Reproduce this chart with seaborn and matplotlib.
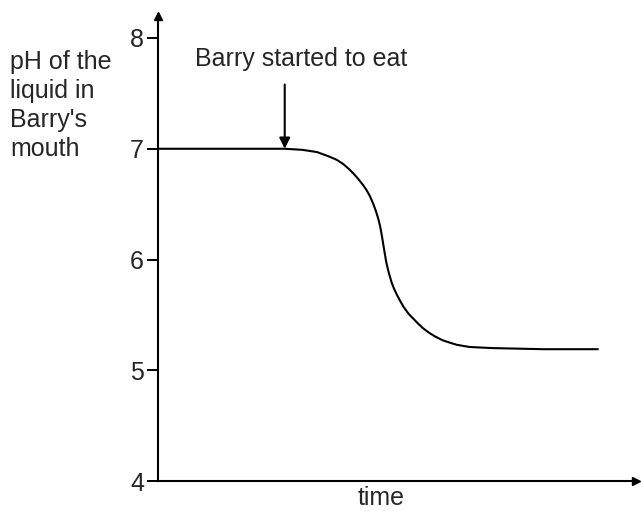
import numpy as np
import pandas as pd
import seaborn as sns
import matplotlib
matplotlib.use("Agg")
import matplotlib.pyplot as plt

# values (time in arbitrary units, pH)
time = [0.0, 1.0, 2.0, 2.63, 3.0, 3.3, 3.55, 3.71, 3.85, 3.98, 4.07, 4.16,
        4.26, 4.33, 4.40, 4.47, 4.52, 4.57, 4.61, 4.64, 4.67, 4.70, 4.74,
        4.79, 4.85, 4.90, 4.96, 5.02, 5.10, 5.20, 5.30, 5.40, 5.50, 5.62,
        5.75, 5.91, 6.05, 6.2, 6.33, 6.47, 6.7, 6.95, 8.0, 9.13]
ph = [7.0, 7.0, 7.0, 7.0, 6.99, 6.97, 6.93, 6.90, 6.86, 6.81, 6.77, 6.725,
      6.67, 6.625, 6.57, 6.50, 6.44, 6.37, 6.30, 6.23, 6.15, 6.07, 5.97,
      5.88, 5.79, 5.735, 5.68, 5.63, 5.57, 5.51, 5.465, 5.42, 5.38, 5.34,
      5.305, 5.27, 5.25, 5.23, 5.22, 5.21, 5.205, 5.20, 5.19, 5.19]
yticks = [4, 5, 6, 7, 8]
ylabel = "pH of the\nliquid in\nBarry's\nmouth"
xlabel = "time"
note = "Barry started to eat"
note_time = 2.63

sns.set_style("white")
plt.rcParams['font.family'] = ['Liberation Sans', 'DejaVu Sans']

df = pd.DataFrame({"time": time, "pH": ph})

fig = plt.figure(figsize=(6.41, 5.11), dpi=100)
ax = fig.add_axes([158 / 641, 30 / 511, (636 - 158) / 641, (481 - 16) / 511])

sns.lineplot(data=df, x="time", y="pH", color="black", linewidth=1.5, ax=ax)

ax.set_xlim(0, 9.92)
ax.set_ylim(4, 4 + (481 - 16) / 110.75)
ax.set_yticks(yticks)
ax.set_xticks([])
ax.tick_params(axis="y", left=True, length=8, width=1.4, color="black",
               labelsize=18, pad=2)
for s in ["top", "right"]:
    ax.spines[s].set_visible(False)
for s in ["left", "bottom"]:
    ax.spines[s].set_linewidth(1.5)
    ax.spines[s].set_color("black")
ax.plot(1, 0, ">k", markersize=6, transform=ax.transAxes, clip_on=False)
ax.plot(0, 1, "^k", markersize=6, transform=ax.transAxes, clip_on=False)

ax.set_xlabel(xlabel, fontsize=18)
ax.xaxis.set_label_coords((381 - 158) / (636 - 158), -5 / 465)
ax.xaxis.label.set_va("top")
ax.set_ylabel("")

fig.text(10 / 641, 1 - 50 / 511, ylabel, fontsize=18, ha="left", va="top",
         linespacing=1.27)

ax.annotate("", xy=(note_time, 7.0), xytext=(note_time, 7.58),
            arrowprops=dict(arrowstyle="-|>", color="black", lw=1.5,
                            mutation_scale=16, shrinkA=0, shrinkB=0))
ax.text((195 - 158) / 48.2, 8 - (66.5 - 38) / 110.75, note, fontsize=18,
        ha="left", va="baseline")

fig.savefig("out.png", dpi=100)
